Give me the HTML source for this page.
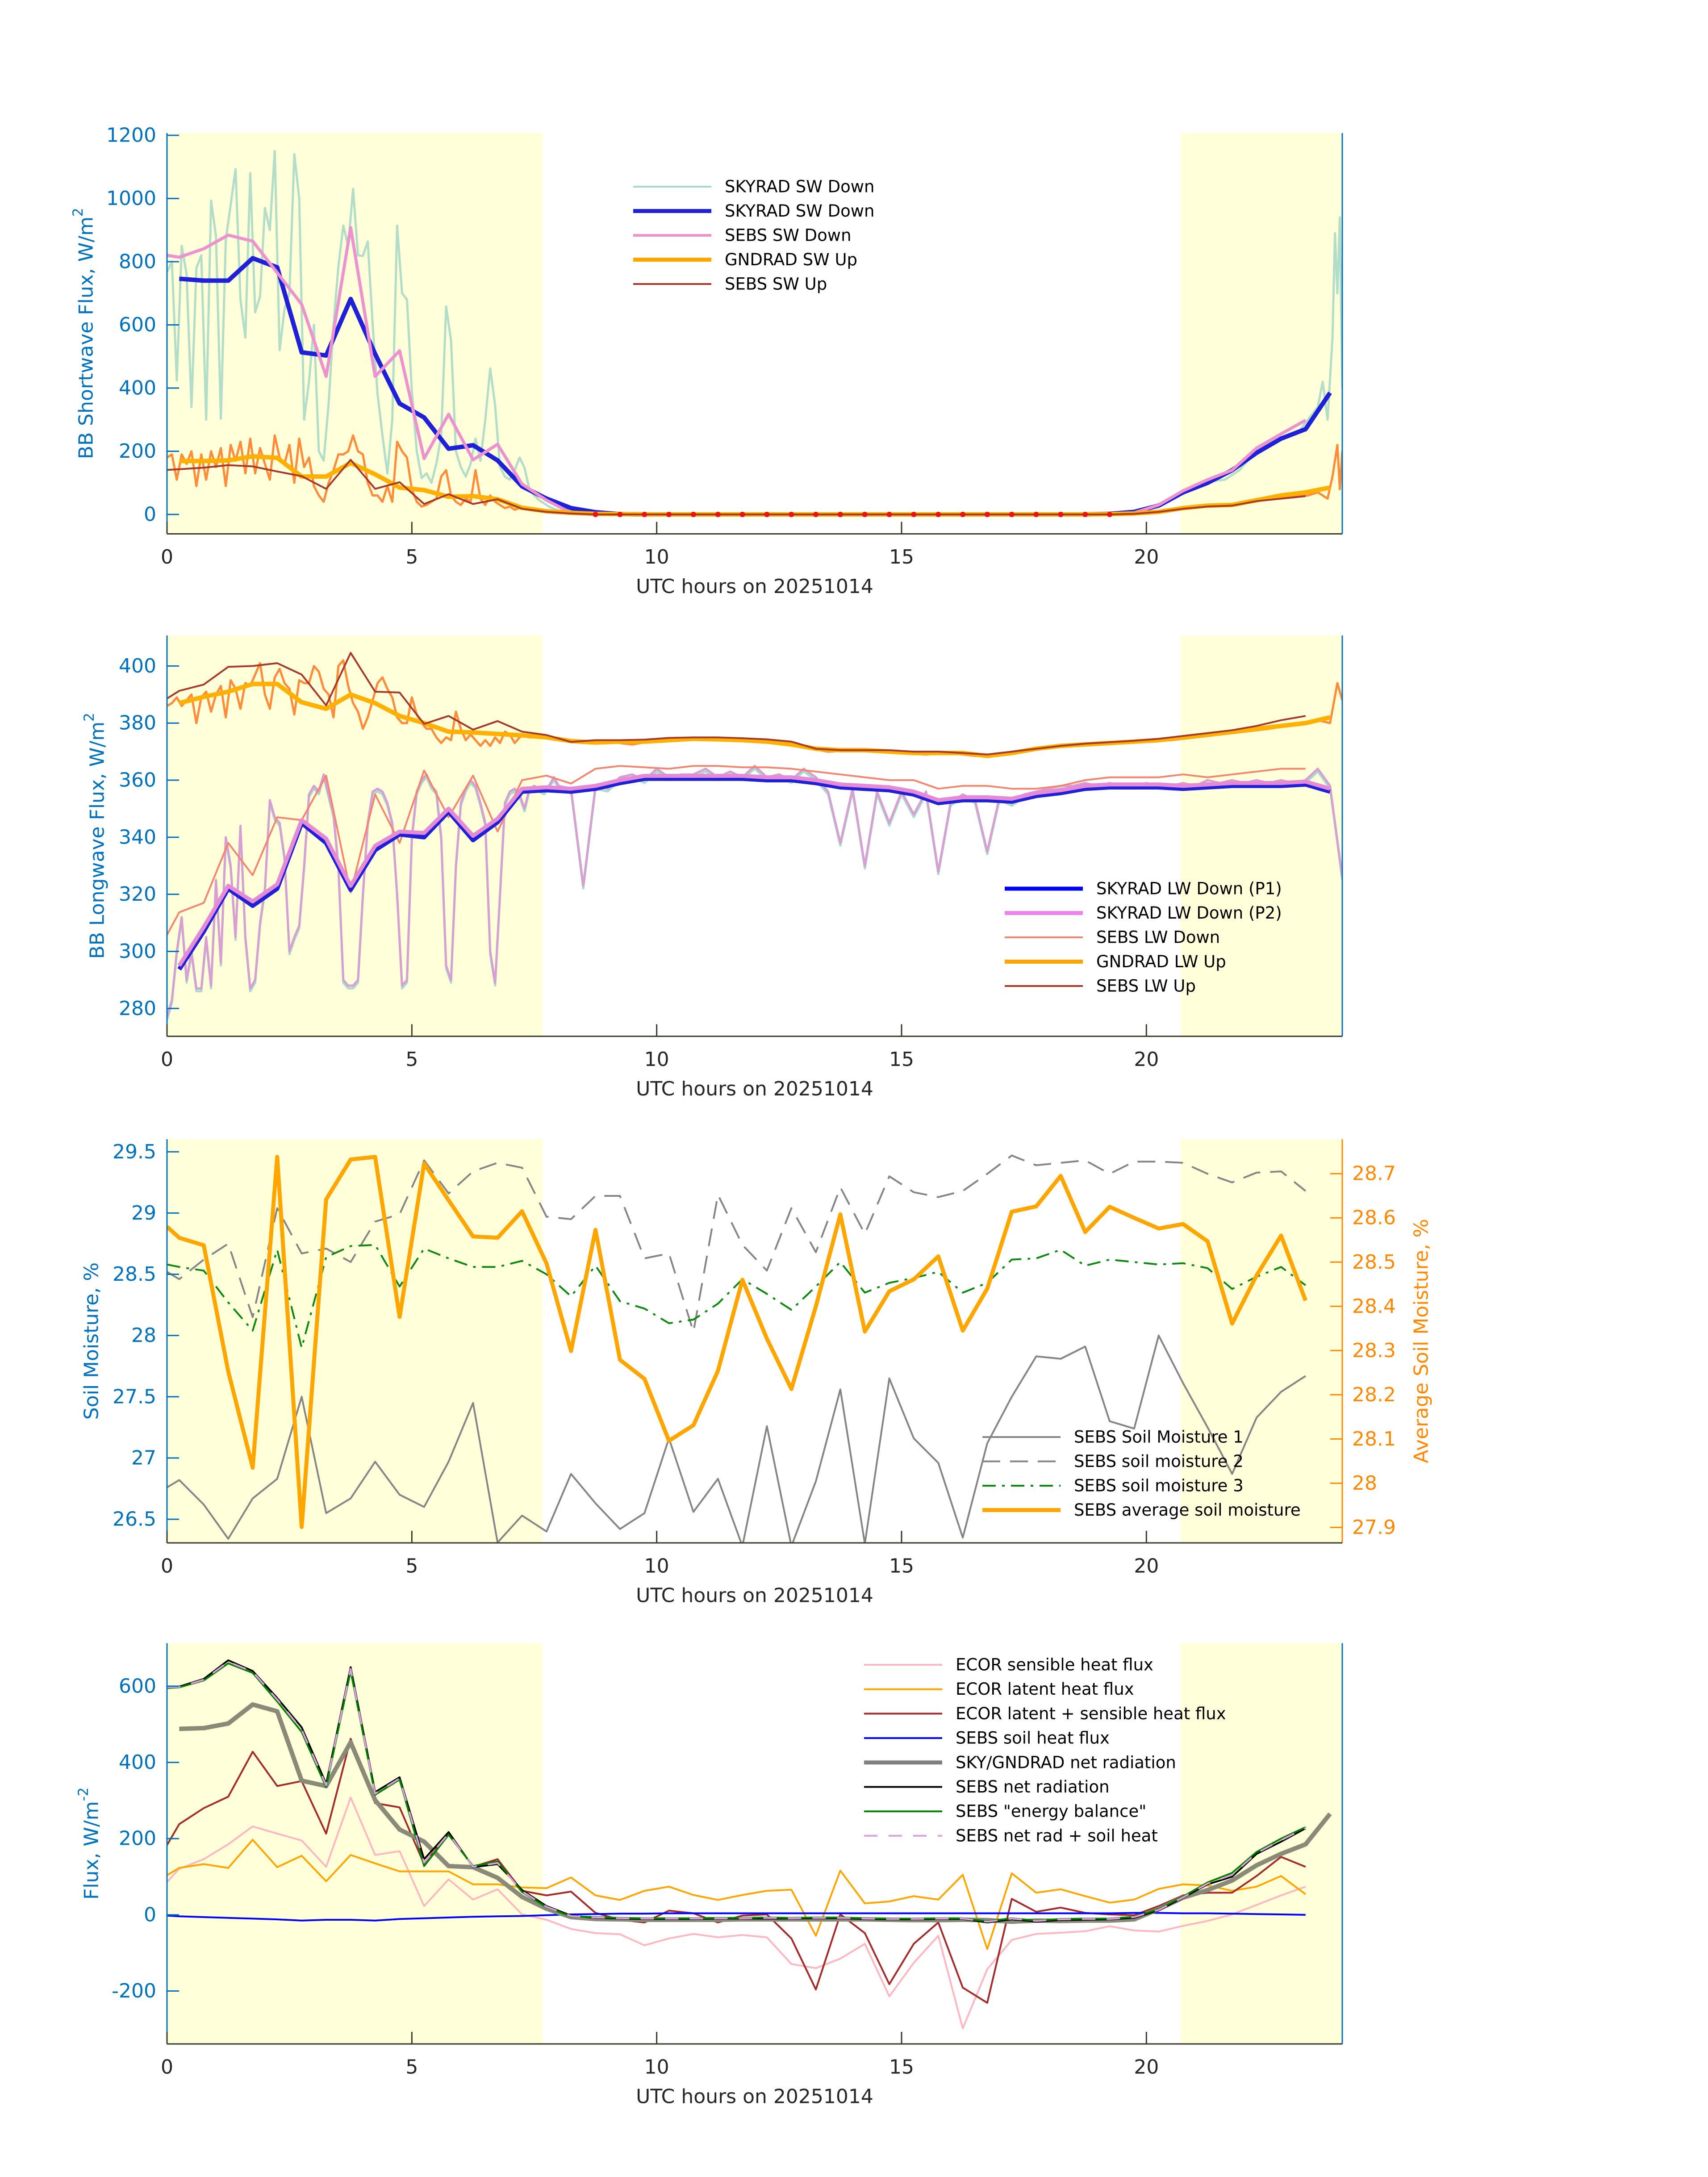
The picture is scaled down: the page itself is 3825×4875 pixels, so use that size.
<!DOCTYPE html>
<html>
<head>
<meta charset="utf-8">
<title>Radiation, soil moisture and flux, 20251014</title>
<style>
html,body{margin:0;padding:0;background:#fff;}
svg{display:block;}
text{font-family:"DejaVu Sans","Liberation Sans",sans-serif;}
</style>
</head>
<body>
<svg id="chart" xmlns="http://www.w3.org/2000/svg" width="3825" height="4875" viewBox="0 0 3825 4875">
<rect x="0" y="0" width="3825" height="4875" fill="#ffffff"/>
</svg>
<script>
// ---------- time grids ----------
const T_A = [0.25,0.75,1.25,1.75,2.25,2.75,3.25,3.75,4.25,4.75,5.25,5.75,6.25,6.75,7.25,7.75,8.25,8.75,9.25,9.75,10.25,10.75,11.25,11.75,12.25,12.75,13.25,13.75,14.25,14.75,15.25,15.75,16.25,16.75,17.25,17.75,18.25,18.75,19.25,19.75,20.25,20.75,21.25,21.75,22.25,22.75,23.25,23.75];
const T_B = [0,0.25,0.75,1.25,1.75,2.25,2.75,3.25,3.75,4.25,4.75,5.25,5.75,6.25,6.75,7.25,7.75,8.25,8.75,9.25,9.75,10.25,10.75,11.25,11.75,12.25,12.75,13.25,13.75,14.25,14.75,15.25,15.75,16.25,16.75,17.25,17.75,18.25,18.75,19.25,19.75,20.25,20.75,21.25,21.75,22.25,22.75,23.25];
const X_TICKS = [0,5,10,15,20];
const DAY_SHADE_START = [0, 20.7];
const DAY_SHADE_END = [7.67, 24];

// ---------- panel 1: shortwave ----------
const SW_SKY_HI = [767,800,424,850,760,340,780,820,300,993, 880,303,870,980,1093,680,560,1080,640,690, 970,900,1150,520,650,700,1140,1000,300,420, 600,200,170,350,600,785,914,850,1030,820, 818,864,600,380,250,130,300,914,700,680, 390,200,115,130,100,160,250,658,550,200, 150,120,160,240,170,300,462,345,150,120, 110,140,180,148,80,60,45,35,25,18, 12];
const SW_SKY_LATE_T = [8.5,9,19.5,19.8,20.1,20.4,20.7,21.0,21.3,21.6,21.9,22.2,22.5,22.8,23.1,23.3,23.5,23.6,23.7,23.8,23.85,23.9,23.95,24];
const SW_SKY_LATE = [4,0,3,12,25,40,70,95,105,110,140,195,215,240,260,300,340,420,300,560,890,700,940,400];
const SW_GND_HI = [180,190,110,190,160,200,90,190,110,200, 150,210,90,220,170,230,130,240,130,210, 160,110,250,180,160,220,100,240,150,180, 90,60,40,100,140,190,190,200,250,200, 190,100,60,60,40,90,40,230,200,180, 80,40,25,30,40,50,120,140,60,40, 30,50,40,140,50,30,60,40,30,20, 25,15,20,18,15,12,10,8,6,5, 4];
const SW_GND_LATE_T = [8.5,9,19.5,20,20.5,21,21.5,22,22.5,23,23.3,23.5,23.7,23.8,23.9,23.95,24];
const SW_GND_LATE = [2,0,0,6,15,25,30,35,50,55,60,70,50,120,220,80,200];
const SKYRAD_SW = [746,740,740,811,782,513,503,682,508,351,307,208,219,171,89,50,20,7,1,0,0,0,0,0,0,0,0,0,0,0,0,0,0,0,0,0,0,0,2,8,28,70,100,140,195,240,270,385];
const GNDRAD_SW = [169,169,171,184,179,120,120,163,127,85,77,56,58,48,21,10,5,2,1,0,0,0,0,0,0,0,0,0,0,0,0,0,0,0,0,0,0,0,1,3,8,20,28,30,45,60,70,85];
const SEBS_SW_DOWN = [820,814,841,884,865,765,665,437,908,437,518,177,317,173,222,96,45,5,0,0,0,0,0,0,0,0,0,0,0,0,0,0,0,0,0,0,0,0,0,0,5,30,75,110,140,210,255,298];
const SEBS_SW_UP = [141,143,148,156,152,136,121,81,173,81,102,33,64,33,48,18,8,3,0,0,0,0,0,0,0,0,0,0,0,0,0,0,0,0,0,0,0,0,0,0,2,8,18,25,28,42,50,58];
const SW_TICKS = [0,200,400,600,800,1000,1200];

// ---------- panel 2: longwave ----------
const LW_SKY_HI = [277,283,300,312,290,300,287,287,305,288, 325,296,340,330,305,344,305,287,290,310, 322,353,347,345,333,300,305,309,330,355, 358,356,362,355,348,330,290,288,288,290, 320,345,356,357,356,352,345,320,288,290, 340,356,360,362,358,356,340,295,290,330, 352,357,360,358,352,345,300,289,320,352, 356,357,355,350,357,358,357,356,358,361, 358];
const LW_SKY_LATE = [357,323,358, 357,361,362,360,364,361,362,362,364,361,363,361,365,361,362,360,364,361,356,338,357,330,356,345,356,348,356,328,352,355,353,335,354,352,355,356,357,358,358,359,358,359,358,358,359,358,358,359,358,360,359,360,359,360,359,360,359,360,364,358,326];
const LW_GND_HI = [386,387,389,386,388,390,380,389,391,384, 390,393,382,395,392,385,394,393,397,401, 390,385,396,399,394,392,383,395,394,394, 400,398,392,390,382,400,402,393,387,384, 378,382,388,394,396,392,389,382,380,380, 389,383,380,378,378,375,373,375,374,384, 378,374,376,374,372,374,372,375,373,377, 376,373,375,376,375,375,375.5,375,375,375, 374];
const LW_GND_LATE_T = [8.5,9,9.5,10,10.5,11,11.5,12,12.5,13,13.5,14,14.5,15,15.5,16,16.5,17,17.5,18,18.5,19,19.5,20,20.5,21,21.5,22,22.5,23,23.5,23.75,23.9,24];
const LW_GND_LATE = [373,373.5,372.5,374,374.5,374,374.5,373.5,373,371.5,370,370.5,370,369.5,369,369.5,368.5,369,370,371.5,372,372.5,373,373.5,374,375,376,377,378,379.5,381,380,394,388];
const SKYRAD_LW_P1 = [293.7,307,322,316,322,345,338,321.6,335.5,341,340,349,339,345.3,356,356.5,356,357,359,360.5,360.5,360.5,360.5,360.5,360,360,359,357.5,357,356.5,355,352,353,353,352.5,354.5,355.5,357,357.5,357.5,357.5,357,357.5,358,358,358,358.5,356];
const SKYRAD_LW_P2 = [295,308.5,323,317.5,323.5,346,339.5,323,337,342,341.5,350,340.5,346.5,357,357.5,357,358,360,361.5,361.5,361.5,361.5,361.5,361,361,360,358.5,358,357.5,356,353,354,354,353.5,355.5,356.5,358,358.5,358.5,358.5,358,358.5,359,359,359,359.5,357];
const SEBS_LW_DOWN = [305.8,313.7,317,338,326.7,347,346,361.6,320.6,355,338,363.4,347,361.6,342,360,361.6,358.8,364,365,364.5,364,365,365,364.5,364.5,364,363,362,361,360,360,357,358,358,357,357,358,360,361,361,361,362,361,362,363,364,364];
const GNDRAD_LW = [387,389.2,391,393.7,393.7,387.3,385,390,387,382.5,380,377,376.7,376.2,375.7,375,373.7,373.2,373.5,373.5,374,374.5,374.3,374,373.5,372.5,371,370.5,370.5,370,369.5,369.5,369.5,368.5,369.5,371,372,372.5,373,373.5,374,375,376,377,378,379,380,382];
const SEBS_LW_UP = [388.6,391.3,393.5,399.7,400,401,397,386.2,404.6,391,390.7,379.7,382.5,377.7,380.7,377,375.8,373.4,374,374,374.2,374.8,375,375,374.7,374.3,373.5,371,370.5,370.5,370.5,370,370,369.5,369,370,371,372,372.8,373.3,373.8,374.5,375.5,376.5,377.5,379,381,382.5];
const LW_TICKS = [280,300,320,340,360,380,400];

// ---------- panel 3: soil moisture ----------
const SOIL_1 = [26.76,26.82,26.62,26.34,26.67,26.83,27.5,26.55,26.67,26.97,26.70,26.60,26.97,27.45,26.31,26.53,26.40,26.87,26.63,26.42,26.55,27.16,26.56,26.83,26.28,27.26,26.28,26.81,27.56,26.30,27.65,27.16,26.96,26.35,27.12,27.50,27.83,27.81,27.91,27.30,27.24,28.0,27.61,27.25,26.87,27.33,27.54,27.67];
const SOIL_2 = [28.52,28.46,28.62,28.75,28.15,29.04,28.67,28.71,28.6,28.93,28.99,29.43,29.16,29.34,29.41,29.37,28.97,28.95,29.14,29.14,28.63,28.67,28.03,29.15,28.74,28.53,29.04,28.68,29.21,28.83,29.3,29.17,29.13,29.18,29.32,29.47,29.39,29.41,29.43,29.32,29.42,29.42,29.41,29.32,29.25,29.33,29.34,29.18];
const SOIL_3 = [28.58,28.56,28.53,28.27,28.04,28.70,27.9,28.64,28.73,28.74,28.40,28.71,28.63,28.56,28.56,28.61,28.50,28.32,28.57,28.28,28.22,28.10,28.13,28.26,28.46,28.34,28.21,28.40,28.60,28.35,28.43,28.47,28.52,28.35,28.43,28.62,28.63,28.70,28.57,28.62,28.60,28.58,28.59,28.55,28.38,28.48,28.56,28.41];
const SOIL_AVG = [28.58,28.555,28.538,28.253,28.035,28.738,27.901,28.642,28.732,28.738,28.376,28.723,28.64,28.558,28.555,28.615,28.497,28.299,28.573,28.279,28.236,28.096,28.131,28.254,28.46,28.327,28.213,28.40,28.608,28.343,28.434,28.461,28.513,28.345,28.44,28.614,28.626,28.695,28.568,28.625,28.60,28.576,28.586,28.547,28.361,28.47,28.56,28.413];
const SOIL_TICKS = [26.5,27,27.5,28,28.5,29,29.5];
const SOIL_TICK_LABELS = ["26.5","27","27.5","28","28.5","29","29.5"];
const AVG_TICKS = [27.9,28.0,28.1,28.2,28.3,28.4,28.5,28.6,28.7];
const AVG_TICK_LABELS = ["27.9","28","28.1","28.2","28.3","28.4","28.5","28.6","28.7"];

// ---------- panel 4: fluxes ----------
const ECOR_SENSIBLE = [86,121,146,185,232,213,195,126,308,157,167,23,93,40,67,1,-13,-37,-48,-51,-80,-62,-50,-59,-53,-59,-129,-140,-115,-76,-214,-126,-55,-298,-143,-66,-50,-47,-43,-30,-41,-44,-29,-16,1,26,51,74];
const ECOR_LATENT = [104,123,133,123,197,125,155,88,157,135,114,114,114,80,80,72,70,98,51,39,63,74,52,39,52,63,66,-55,116,30,35,49,40,105,-90,109,58,67,49,32,40,68,80,77,63,74,102,54];
const ECOR_SUM = [183,238,280,310,428,338,351,213,462,293,282,133,217,126,146,63,51,61,5,-13,-20,11,4,-20,-2,1,-62,-196,1,-48,-182,-76,-20,-191,-231,42,8,19,5,1,-1,23,51,58,58,102,152,126];
const SEBS_SOIL_HEAT = [-2,-4,-6,-8,-10,-12,-15,-13,-13,-15,-11,-9,-7,-5,-4,-3,-1,1,2,3,3,4,4,4,4,4,4,4,4,4,4,4,4,4,4,4,4,4,4,4,5,5,4,4,3,2,1,0];
const SKYGND_NET = [488,490,502,552,534,352,338,453,301,224,192,128,125,97,47,16,-6,-11,-12,-13,-13,-13,-13,-12,-12,-12,-12,-12,-12,-13,-14,-14,-13,-14,-18,-15,-16,-15,-15,-12,15,45,65,90,130,160,185,265];
const SEBS_NET = [599,599,619,668,640,569,492,344,650,322,361,146,217,125,133,65,23,-2,-8,-10,-11,-11,-11,-10,-10,-10,-10,-9,-9,-11,-12,-12,-11,-11,-20,-12,-18,-14,-13,-12,-8,12,45,80,100,160,192,227];
const SEBS_BALANCE = [595,597,615,660,635,560,480,335,640,315,355,128,210,128,140,60,20,-4,-6,-8,-9,-9,-9,-8,-8,-7,-8,-7,-7,-9,-10,-10,-9,-9,-17,-9,-15,-11,-10,-10,-5,15,48,85,110,165,200,230];
const SEBS_NET_SOIL = [597,598,617,664,638,565,486,340,645,318,358,137,213,126,136,62,21,-3,-7,-9,-10,-10,-10,-9,-9,-8,-9,-8,-8,-10,-11,-11,-10,-10,-18,-10,-16,-12,-11,-11,-6,13,46,82,105,162,196,228];
const FLUX_TICKS = [-200,0,200,400,600];

// ---------- layout ----------
const NS = 'http://www.w3.org/2000/svg';
const svg = document.getElementById('chart');
const X0 = 374, X1 = 3006, XMIN = 0, XMAX = 24;
const BLUE = '#0072BD';
const FONT = '"DejaVu Sans","Liberation Sans",sans-serif';
function sx(t){ return X0 + (t - XMIN) / (XMAX - XMIN) * (X1 - X0); }
function mkY(p, lo, hi){ return v => p.bottom - (v - lo) / (hi - lo) * (p.bottom - p.top); }
function mk(tag, parent){ const e = document.createElementNS(NS, tag); (parent || svg).appendChild(e); return e; }
function hiTimes(n, start, step){ const a = []; for (let i = 0; i < n; i++) a.push(+(start + i * step).toFixed(3)); return a; }

const P1 = {id:'sw', top:298, bottom:1195.5, ymin:-61.5, ymax:1207};
const P2 = {id:'lw', top:1423, bottom:2320.6, ymin:270.25, ymax:410.7};
const P3 = {id:'soil', top:2551, bottom:3455, ymin:26.307, ymax:29.603, y2min:27.865, y2max:28.778};
const P4 = {id:'flux', top:3679.5, bottom:4577, ymin:-338.8, ymax:713};
[P1,P2,P3,P4].forEach(p => { p.sy = mkY(p, p.ymin, p.ymax); });
P3.sy2 = mkY(P3, P3.y2min, P3.y2max);

function setupPanel(p){
  const g = mk('g');
  
  
  p.g = g;
  for (let i = 0; i < DAY_SHADE_START.length; i++) {
    const r = mk('rect', g);
    
    
    r.setAttribute('x', sx(DAY_SHADE_START[i]));
    r.setAttribute('y', p.top);
    r.setAttribute('width', sx(DAY_SHADE_END[i]) - sx(DAY_SHADE_START[i]));
    r.setAttribute('height', p.bottom - p.top);
    r.setAttribute('fill', '#ffffda');
  }
  const defs = mk('defs', g);
  const cp = mk('clipPath', defs);
  cp.setAttribute('id', 'clip-' + p.id);
  const cr = mk('rect', cp);
  cr.setAttribute('x', X0); cr.setAttribute('y', p.top);
  cr.setAttribute('width', X1 - X0); cr.setAttribute('height', p.bottom - p.top);
  const lg = mk('g', g);
  
  
  lg.setAttribute('clip-path', 'url(#clip-' + p.id + ')');
  p.lines = lg;
}

function drawLine(p, ts, vs, name, stroke, width, opts){
  opts = opts || {};
  const yf = opts.right ? p.sy2 : p.sy;
  let d = '';
  for (let i = 0; i < ts.length && i < vs.length; i++) {
    d += (i ? 'L' : 'M') + sx(ts[i]).toFixed(1) + ' ' + yf(vs[i]).toFixed(1);
  }
  const path = mk('path', p.lines);
  
  
  path.setAttribute('d', d);
  path.setAttribute('fill', 'none');
  path.setAttribute('stroke', stroke);
  path.setAttribute('stroke-width', width);
  path.setAttribute('stroke-linejoin', 'round');
  if (opts.dash) path.setAttribute('stroke-dasharray', opts.dash);
  if (opts.opacity) path.setAttribute('stroke-opacity', opts.opacity);
  if (opts.dy) path.setAttribute('transform', 'translate(0,' + opts.dy + ')');
  return path;
}

function text(parent, x, y, s, size, fill, anchor, name){
  const t = mk('text', parent);
  
  
  t.setAttribute('x', x); t.setAttribute('y', y);
  t.setAttribute('font-size', size);
  t.setAttribute('fill', fill);
  t.setAttribute('text-anchor', anchor);
  t.setAttribute('dominant-baseline', 'central');
  t.setAttribute('font-family', FONT);
  t.textContent = s;
  return t;
}

function axes(p, yticks, ylabels, ylabelText, ylabelX, sup, rightColor){
  const g = mk('g', p.g);
  
  
  const la = mk('line', g);
  
  
  la.setAttribute('x1', X0); la.setAttribute('x2', X0);
  la.setAttribute('y1', p.top); la.setAttribute('y2', p.bottom);
  la.setAttribute('stroke', BLUE); la.setAttribute('stroke-width', 3);
  const ra = mk('line', g);
  
  
  ra.setAttribute('x1', X1); ra.setAttribute('x2', X1);
  ra.setAttribute('y1', p.top); ra.setAttribute('y2', p.bottom);
  ra.setAttribute('stroke', rightColor || BLUE); ra.setAttribute('stroke-width', 3);
  const ba = mk('line', g);
  
  
  ba.setAttribute('x1', X0); ba.setAttribute('x2', X1);
  ba.setAttribute('y1', p.bottom); ba.setAttribute('y2', p.bottom);
  ba.setAttribute('stroke', '#3a3a2a'); ba.setAttribute('stroke-width', 3);
  yticks.forEach((v, i) => {
    const y = p.sy(v);
    const tk = mk('line', g);
    
    
    tk.setAttribute('x1', X0); tk.setAttribute('x2', X0 + 27);
    tk.setAttribute('y1', y); tk.setAttribute('y2', y);
    tk.setAttribute('stroke', BLUE); tk.setAttribute('stroke-width', 3);
    text(g, 350, y, ylabels[i], 44, BLUE, 'end', 'y-tick-label');
  });
  X_TICKS.forEach(v => {
    const x = sx(v);
    const tk = mk('line', g);
    
    
    tk.setAttribute('x1', x); tk.setAttribute('x2', x);
    tk.setAttribute('y1', p.bottom); tk.setAttribute('y2', p.bottom - 27);
    tk.setAttribute('stroke', '#3a3a2a'); tk.setAttribute('stroke-width', 3);
    text(g, x, p.bottom + 52, String(v), 44, '#262626', 'middle', 'x-tick-label');
  });
  text(g, (X0 + X1) / 2, p.bottom + 118, 'UTC hours on 20251014', 44, '#262626', 'middle', 'x-axis-title');
  const cy = (p.top + p.bottom) / 2;
  const yl = mk('text', g);
  
  
  yl.setAttribute('x', ylabelX); yl.setAttribute('y', cy);
  yl.setAttribute('font-size', 44);
  yl.setAttribute('fill', BLUE);
  yl.setAttribute('text-anchor', 'middle');
  yl.setAttribute('dominant-baseline', 'central');
  yl.setAttribute('font-family', FONT);
  yl.setAttribute('transform', 'rotate(-90 ' + ylabelX + ' ' + cy + ')');
  yl.appendChild(document.createTextNode(ylabelText));
  if (sup) {
    const ts = mk('tspan', yl);
    ts.setAttribute('baseline-shift', 'super');
    ts.setAttribute('font-size', 31);
    ts.textContent = sup;
  }
}

function legend(p, x, y0, dy, items){
  const g = mk('g', p.g);
  
  
  items.forEach((it, i) => {
    const y = y0 + i * dy;
    const e = mk('g', g);
    
    
    const ln = mk('line', e);
    
    
    ln.setAttribute('x1', x); ln.setAttribute('x2', x + 175);
    ln.setAttribute('y1', y); ln.setAttribute('y2', y);
    ln.setAttribute('stroke', it.c); ln.setAttribute('stroke-width', it.w);
    if (it.dash) ln.setAttribute('stroke-dasharray', it.dash);
    text(e, x + 205, y, it.t, 37, '#000', 'start', 'legend-label');
  });
}

// ---------- Panel 1 ----------
setupPanel(P1);
const swHiT = hiTimes(SW_SKY_HI.length, 0, 0.1);
drawLine(P1, swHiT.concat(SW_SKY_LATE_T), SW_SKY_HI.concat(SW_SKY_LATE), 'skyrad-sw-down-1min', '#a9d9c6', 5, {opacity:0.9});
const swGT = hiTimes(SW_GND_HI.length, 0, 0.1);
drawLine(P1, swGT.concat(SW_GND_LATE_T), SW_GND_HI.concat(SW_GND_LATE), 'gndrad-sw-up-1min', '#ff8c3a', 5);
drawLine(P1, T_A, SKYRAD_SW, 'skyrad-sw-down', '#2020d8', 10);
drawLine(P1, T_B, SEBS_SW_DOWN, 'sebs-sw-down', '#ee92cf', 7);
drawLine(P1, T_A, GNDRAD_SW, 'gndrad-sw-up', '#ffb000', 10);
drawLine(P1, T_B, SEBS_SW_UP, 'sebs-sw-up', '#a8382a', 4);
for (let i = 0; i < T_B.length; i++) {
  if (T_B[i] > 8.5 && T_B[i] < 19.5) {
    const c = mk('circle', P1.lines);
    
    
    c.setAttribute('cx', sx(T_B[i])); c.setAttribute('cy', P1.sy(SEBS_SW_UP[i]));
    c.setAttribute('r', 6); c.setAttribute('fill', '#ee1111');
  }
}
axes(P1, SW_TICKS, SW_TICKS.map(String), 'BB Shortwave Flux, W/m', 193, '2');
legend(P1, 1418, 418, 54.5, [
  {t:'SKYRAD SW Down', c:'#a6d8d0', w:4},
  {t:'SKYRAD SW Down', c:'#2020d8', w:9},
  {t:'SEBS SW Down', c:'#ee92cf', w:6},
  {t:'GNDRAD SW Up', c:'#ffa500', w:9},
  {t:'SEBS SW Up', c:'#a8382a', w:4}
]);

// ---------- Panel 2 ----------
setupPanel(P2);
const lwHiT = hiTimes(LW_SKY_HI.length, 0, 0.1).concat(hiTimes(LW_SKY_LATE.length, 8.25, 0.25));
const lwSkyAll = LW_SKY_HI.concat(LW_SKY_LATE);
drawLine(P2, lwHiT, lwSkyAll, 'skyrad-lw-down-p1-1min', '#a8dccc', 5, {dy:6});
drawLine(P2, lwHiT, lwSkyAll, 'skyrad-lw-down-p2-1min', '#d79fd2', 5);
const lwGT = hiTimes(LW_GND_HI.length, 0, 0.1);
drawLine(P2, lwGT.concat(LW_GND_LATE_T), LW_GND_HI.concat(LW_GND_LATE), 'gndrad-lw-up-1min', '#ff8c3a', 5);
drawLine(P2, T_B, SEBS_LW_DOWN, 'sebs-lw-down', '#f4856e', 4);
drawLine(P2, T_A, SKYRAD_LW_P1, 'skyrad-lw-down-p1', '#2020d8', 10);
drawLine(P2, T_A, SKYRAD_LW_P2, 'skyrad-lw-down-p2', '#e48ad6', 9);
drawLine(P2, T_A, GNDRAD_LW, 'gndrad-lw-up', '#ffb000', 10);
drawLine(P2, T_B, SEBS_LW_UP, 'sebs-lw-up', '#a8382a', 4);
axes(P2, LW_TICKS, LW_TICKS.map(String), 'BB Longwave Flux, W/m', 218, '2');
legend(P2, 2250, 1990, 54.5, [
  {t:'SKYRAD LW Down (P1)', c:'#0000ff', w:9},
  {t:'SKYRAD LW Down (P2)', c:'#ee82ee', w:9},
  {t:'SEBS LW Down', c:'#f4856e', w:4},
  {t:'GNDRAD LW Up', c:'#ffa500', w:9},
  {t:'SEBS LW Up', c:'#a8382a', w:4}
]);

// ---------- Panel 3 ----------
setupPanel(P3);
drawLine(P3, T_B, SOIL_1, 'sebs-soil-moisture-1', '#858585', 4);
drawLine(P3, T_B, SOIL_2, 'sebs-soil-moisture-2', '#858585', 4, {dash:'40 22'});
drawLine(P3, T_B, SOIL_3, 'sebs-soil-moisture-3', '#0a8a0a', 4, {dash:'30 14 6 14'});
drawLine(P3, T_B, SOIL_AVG, 'sebs-average-soil-moisture', '#ffa500', 9, {right:true});
axes(P3, SOIL_TICKS, SOIL_TICK_LABELS, 'Soil Moisture, %', 205, null, '#ff8800');
(function(){
  const g = mk('g', P3.g);
  
  
  AVG_TICKS.forEach((v, i) => {
    const y = P3.sy2(v);
    const tk = mk('line', g);
    
    
    tk.setAttribute('x1', X1 - 27); tk.setAttribute('x2', X1);
    tk.setAttribute('y1', y); tk.setAttribute('y2', y);
    tk.setAttribute('stroke', '#ff8800'); tk.setAttribute('stroke-width', 3);
    text(g, 3028, y, AVG_TICK_LABELS[i], 44, '#ff8800', 'start', 'right-y-tick-label');
  });
  const cy = (P3.top + P3.bottom) / 2;
  const yl = text(g, 3183, cy, 'Average Soil Moisture, %', 44, '#ff8800', 'middle', 'right-y-axis-title');
  yl.setAttribute('transform', 'rotate(-90 3183 ' + cy + ')');
})();
legend(P3, 2200, 3218, 54.5, [
  {t:'SEBS Soil Moisture 1', c:'#858585', w:4},
  {t:'SEBS soil moisture 2', c:'#858585', w:4, dash:'40 22'},
  {t:'SEBS soil moisture 3', c:'#0a8a0a', w:4, dash:'30 14 6 14'},
  {t:'SEBS average soil moisture', c:'#ffa500', w:9}
]);

// ---------- Panel 4 ----------
setupPanel(P4);
drawLine(P4, T_B, ECOR_SENSIBLE, 'ecor-sensible-heat-flux', '#ffb6c1', 4);
drawLine(P4, T_B, ECOR_LATENT, 'ecor-latent-heat-flux', '#ffa500', 4);
drawLine(P4, T_B, ECOR_SUM, 'ecor-latent-plus-sensible', '#a52a2a', 4);
drawLine(P4, T_B, SEBS_SOIL_HEAT, 'sebs-soil-heat-flux', '#0000ff', 4);
drawLine(P4, T_A, SKYGND_NET, 'sky-gndrad-net-radiation', '#8a8a78', 10);
drawLine(P4, T_B, SEBS_NET, 'sebs-net-radiation', '#000000', 4);
drawLine(P4, T_B, SEBS_BALANCE, 'sebs-energy-balance', '#008000', 4);
drawLine(P4, T_B, SEBS_NET_SOIL, 'sebs-net-rad-plus-soil-heat', '#dda0dd', 4, {dash:'30 25'});
axes(P4, FLUX_TICKS, FLUX_TICKS.map(String), 'Flux, W/m', 205, '-2');
legend(P4, 1935, 3728, 54.7, [
  {t:'ECOR sensible heat flux', c:'#ffb6c1', w:4},
  {t:'ECOR latent heat flux', c:'#ffa500', w:4},
  {t:'ECOR latent + sensible heat flux', c:'#a52a2a', w:4},
  {t:'SEBS soil heat flux', c:'#0000ff', w:4},
  {t:'SKY/GNDRAD net radiation', c:'#808080', w:9},
  {t:'SEBS net radiation', c:'#000000', w:4},
  {t:'SEBS "energy balance"', c:'#008000', w:4},
  {t:'SEBS net rad + soil heat', c:'#dda0dd', w:4, dash:'30 25'}
]);
</script>
</body>
</html>
